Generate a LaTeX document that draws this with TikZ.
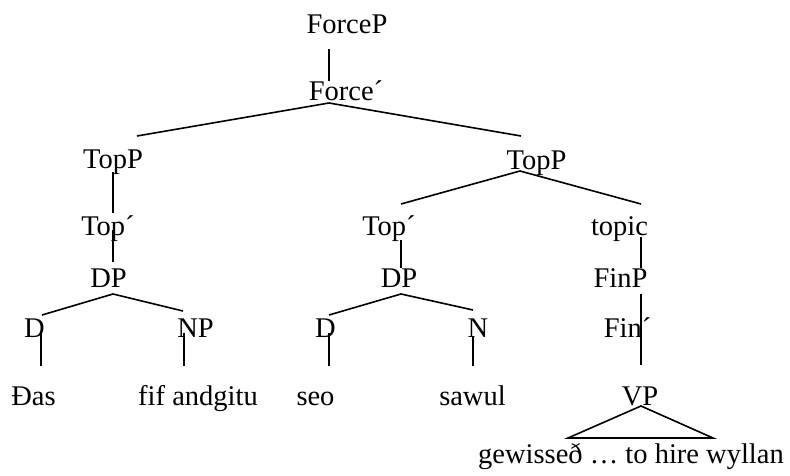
\documentclass[tikz,border=0pt]{standalone}
\usepackage{fontspec}
\setmainfont{Liberation Serif}
\begin{document}
\begin{tikzpicture}[x=1pt,y=-1pt,
  lab/.style={anchor=base,inner sep=0pt,font=\fontsize{28.5}{34}\selectfont},
  edge/.style={line width=1.6pt,line cap=butt}]
\useasboundingbox (0,0) rectangle (790,476);
% labels
\node[lab] (forcep) at (347,34) {ForceP};
\node[lab] (forcebar) at (346,101) {Force´};
\node[lab] (topl) at (113,168) {TopP};
\node[lab] (topbarl) at (108,235) {Top´};
\node[lab] (dpl) at (108.5,287) {DP};
\node[lab] (dl) at (34.5,337) {D};
\node[lab] (np) at (195.5,337) {NP};
\node[lab] (das) at (33.5,405) {Đas};
\node[lab] (fif) at (198,405) {fif andgitu};
\node[lab] (topr) at (536.5,169) {TopP};
\node[lab] (topbarm) at (389,235) {Top´};
\node[lab] (dpm) at (399,287) {DP};
\node[lab] (dm) at (325.5,337) {D};
\node[lab] (n) at (478,337) {N};
\node[lab] (seo) at (315.5,405) {seo};
\node[lab] (sawul) at (472.5,405) {sawul};
\node[lab] (topic) at (619.5,235) {topic};
\node[lab] (finp) at (620.5,287) {FinP};
\node[lab] (finbar) at (627.5,337) {Fin´};
\node[lab] (vp) at (640,405) {VP};
\node[lab] (gew) at (631,463) {gewisseð … to hire wyllan};
% line end points
\coordinate (a1) at (329,49);  \coordinate (a2) at (329,81);
\coordinate (b0) at (329,103); \coordinate (b1) at (137,136); \coordinate (b2) at (521,136);
\coordinate (c1) at (113,172); \coordinate (c2) at (113,213);
\coordinate (c3) at (113,230); \coordinate (c4) at (113,262);
\coordinate (c5) at (113,294); \coordinate (c6) at (42,315); \coordinate (c7) at (183,311);
\coordinate (d1) at (41,333);  \coordinate (d2) at (41,366);
\coordinate (d3) at (184,333); \coordinate (d4) at (184,366);
\coordinate (e0) at (520,171); \coordinate (e1) at (401,204); \coordinate (e2) at (641,204);
\coordinate (f1) at (401,240); \coordinate (f2) at (401,268);
\coordinate (f3) at (401,294); \coordinate (f4) at (329,315); \coordinate (f5) at (473,310);
\coordinate (g1) at (329,333); \coordinate (g2) at (329,366);
\coordinate (g3) at (473,337); \coordinate (g4) at (473,366);
\coordinate (h1) at (641,237); \coordinate (h2) at (641,268);
\coordinate (h3) at (641,294); \coordinate (h4) at (641,365);
\coordinate (t0) at (641,406); \coordinate (t1) at (568,438); \coordinate (t2) at (713,438);
% connectors
\draw[edge] (a1) -- (a2);
\draw[edge] (b1) -- (b0) -- (b2);
\draw[edge] (c1) -- (c2);
\draw[edge] (c3) -- (c4);
\draw[edge] (c6) -- (c5) -- (c7);
\draw[edge] (d1) -- (d2);
\draw[edge] (d3) -- (d4);
\draw[edge] (e1) -- (e0) -- (e2);
\draw[edge] (f1) -- (f2);
\draw[edge] (f4) -- (f3) -- (f5);
\draw[edge] (g1) -- (g2);
\draw[edge] (g3) -- (g4);
\draw[edge] (h1) -- (h2);
\draw[edge] (h3) -- (h4);
\draw[edge,line join=miter] (t0) -- (t1) -- (t2) -- cycle;
\end{tikzpicture}
\end{document}
